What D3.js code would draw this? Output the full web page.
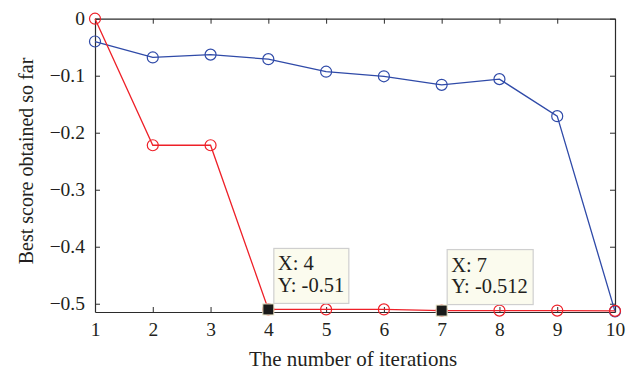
<!DOCTYPE html>
<html>
<head>
<meta charset="utf-8">
<script src="https://cdn.jsdelivr.net/npm/d3@7"></script>
<style>
  html, body { margin: 0; padding: 0; background: #fff; }
  svg { display: block; }
  text { font-family: "Liberation Serif", "DejaVu Serif", serif; fill: #231f20; }
</style>
</head>
<body>
<svg id="chart" width="639" height="372"></svg>
<script>
// Iteration numbers on the x axis
const iterations = [1, 2, 3, 4, 5, 6, 7, 8, 9, 10];
// Best score after each iteration, blue run
const blueScores = [-0.040, -0.068, -0.063, -0.071, -0.093, -0.101, -0.116, -0.106, -0.171, -0.5135];
// Best score after each iteration, red run
const redScores = [0.000, -0.222, -0.222, -0.510, -0.510, -0.510, -0.512, -0.512, -0.512, -0.5125];
// Tick values and labels
const xTicks = [1, 2, 3, 4, 5, 6, 7, 8, 9, 10];
const yTicks = [0, -0.1, -0.2, -0.3, -0.4, -0.5];
const yTickLabels = ["0", "\u22120.1", "\u22120.2", "\u22120.3", "\u22120.4", "\u22120.5"];
// Data tips pinned on the red run
const tipIterations = [4, 7];
const tipLabels = ["-0.51", "-0.512"];

const svg = d3.select("#chart");
const plotLeft = 95, plotRight = 615, plotTop = 18.7, plotBottom = 312;
const serif = '"Liberation Serif", "DejaVu Serif", serif';

const x = d3.scaleLinear().domain([1, 10]).range([plotLeft, plotRight]);
const y = d3.scaleLinear().domain([-0.5145, 0]).range([plotBottom, plotTop]);

const axisColor = "#2b2b2b";
const tickLen = 5;

// Axes box with inward ticks on all four sides
const xAxisB = d3.axisBottom(x).tickValues(xTicks).tickSizeInner(-tickLen).tickSizeOuter(0).tickPadding(10).tickFormat(d3.format("d"));
const xAxisT = d3.axisTop(x).tickValues(xTicks).tickSizeInner(-tickLen).tickSizeOuter(0).tickFormat("");
const yAxisL = d3.axisLeft(y).tickValues(yTicks).tickSizeInner(-tickLen).tickSizeOuter(0).tickPadding(10)
  .tickFormat((d, i) => yTickLabels[i]);
const yAxisR = d3.axisRight(y).tickValues(yTicks).tickSizeInner(-tickLen).tickSizeOuter(0).tickFormat("");

function styleAxis(g) {
  g.attr("font-family", serif).attr("font-size", 19.5);
  g.selectAll("path.domain").attr("stroke", axisColor).attr("stroke-width", 1.2);
  g.selectAll(".tick line").attr("stroke", axisColor).attr("stroke-width", 1);
  g.selectAll(".tick text")
    .style("font-family", serif)
    .style("font-size", "19.5px")
    .attr("fill", "#231f20");
}

svg.append("g").attr("transform", `translate(0,${plotBottom})`).call(xAxisB).call(styleAxis);
svg.append("g").attr("transform", `translate(0,${plotTop})`).call(xAxisT).call(styleAxis);
svg.append("g").attr("transform", `translate(${plotLeft},0)`).call(yAxisL).call(styleAxis);
svg.append("g").attr("transform", `translate(${plotRight},0)`).call(yAxisR).call(styleAxis);

// Axis titles
svg.append("text")
  .attr("x", 353).attr("y", 366)
  .attr("text-anchor", "middle")
  .style("font-size", "21px")
  .text("The number of iterations");

svg.append("text")
  .attr("transform", "translate(32.5,161) rotate(-90)")
  .attr("text-anchor", "middle")
  .style("font-size", "20px")
  .text("Best score obtained so far");

// Series
const line = d3.line().x((d, i) => x(iterations[i])).y(d => y(d));

function drawSeries(values, color) {
  svg.append("path")
    .datum(values)
    .attr("d", line)
    .attr("fill", "none")
    .attr("stroke", color)
    .attr("stroke-width", 1.3);
  svg.append("g").selectAll("circle")
    .data(values)
    .join("circle")
    .attr("cx", (d, i) => x(iterations[i]))
    .attr("cy", d => y(d))
    .attr("r", 5.5)
    .attr("fill", "none")
    .attr("stroke", color)
    .attr("stroke-width", 1.2);
}

drawSeries(blueScores, "#2f4aa8");
drawSeries(redScores, "#ee2028");

// Data tips
const tips = tipIterations.map((it, k) => ({
  it: it,
  val: redScores[iterations.indexOf(it)],
  label: tipLabels[k]
}));

const tipG = svg.append("g").selectAll("g").data(tips).join("g");

tipG.append("rect")
  .attr("x", d => x(d.it) - 5.5)
  .attr("y", d => y(d.val) - 5.5)
  .attr("width", 11).attr("height", 11)
  .attr("fill", "#1a1a1a")
  .attr("stroke", "#e9e6c8")
  .attr("stroke-width", 1);

const boxW = d => d.label.length > 5 ? 86 : 75;
tipG.append("rect")
  .attr("x", d => x(d.it) + 5.5)
  .attr("y", d => y(d.val) - 61)
  .attr("width", boxW)
  .attr("height", 55)
  .attr("fill", "#fbfbee")
  .attr("stroke", "#cfcfcf")
  .attr("stroke-width", 1.2);

tipG.append("text")
  .attr("x", d => x(d.it) + 9.5)
  .attr("y", d => y(d.val) - 39)
  .style("font-size", "20.5px")
  .text(d => `X: ${d.it}`);

tipG.append("text")
  .attr("x", d => x(d.it) + 9.5)
  .attr("y", d => y(d.val) - 17.5)
  .style("font-size", "20.5px")
  .text(d => `Y: ${d.label}`);
</script>
</body>
</html>
